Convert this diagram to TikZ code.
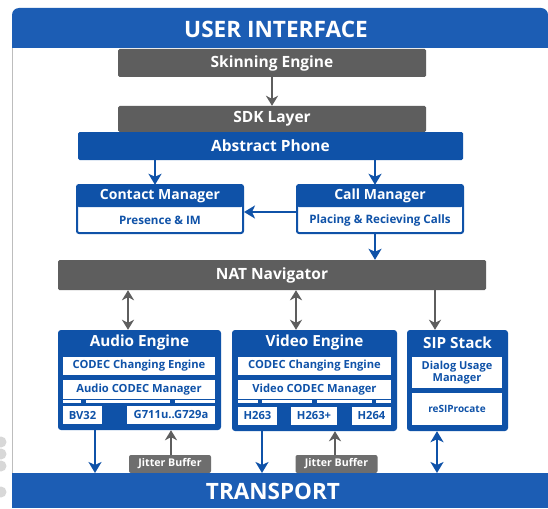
\documentclass[tikz,border=0pt]{standalone}
\usepackage{fontspec}
\setmainfont{Open Sans}
\usetikzlibrary{arrows.meta,calc}
\definecolor{uiblue}{HTML}{1C5DB4}
\definecolor{boxblue}{HTML}{0F52A8}
\definecolor{ggray}{HTML}{5E5E5E}
\definecolor{framegray}{HTML}{BDBDBD}
\definecolor{dotgray}{HTML}{D8D8D8}
\begin{document}
\begin{tikzpicture}[x=1pt,y=-1pt,
  gbox/.style={fill=ggray, text=white, font=\bfseries\fontsize{15.5}{17}\selectfont, rounded corners=1.5pt, inner sep=0pt},
  bbox/.style={fill=boxblue, text=white, font=\bfseries\fontsize{15.5}{17}\selectfont, rounded corners=1.5pt, inner sep=0pt},
  panel/.style={fill=white, draw=boxblue, line width=2pt, rounded corners=2pt, inner sep=0pt},
  hdr/.style={fill=boxblue, text=white, font=\bfseries\fontsize{14}{16}\selectfont, inner sep=0pt},
  sub/.style={text=boxblue, font=\bfseries\fontsize{11.6}{13}\selectfont, inner sep=0pt},
  engine/.style={fill=boxblue, rounded corners=3pt, inner sep=0pt},
  etitle/.style={text=white, font=\bfseries\fontsize{15.3}{17}\selectfont, inner sep=0pt},
  wbox/.style={fill=white, text=boxblue, font=\bfseries\fontsize{11.2}{12}\selectfont, inner sep=0pt, minimum height=18pt},
  jbox/.style={fill=ggray!90, text=white, font=\bfseries\fontsize{10.6}{11}\selectfont, rounded corners=2pt, inner sep=0pt, minimum width=82pt, minimum height=18pt},
  barrow/.style={draw=boxblue, line width=2.5pt, -{Stealth[length=11pt,width=13pt,inset=3pt]}},
  bdarrow/.style={draw=boxblue, line width=2.5pt, {Stealth[length=11pt,width=13pt,inset=3pt]}-{Stealth[length=11pt,width=13pt,inset=3pt]}},
  garrow/.style={draw=ggray, line width=2.3pt, -{Stealth[length=10pt,width=12pt,inset=3pt]}},
  gdarrow/.style={draw=ggray, line width=2.3pt, {Stealth[length=10pt,width=12pt,inset=3pt]}-{Stealth[length=10pt,width=12pt,inset=3pt]}},
  seg/.style={fill=white}
]
\useasboundingbox (0,0) rectangle (548,508);
\fill[white] (0,0) rectangle (548,508);
% side dots
\foreach \yy in {442,454,466,492} \fill[dotgray] (1,\yy) circle (5.5pt);
% frame
\draw[framegray, line width=1.2pt] (12.5,20) -- (12.5,508);
% header
\fill[uiblue] (12,48) [rounded corners=7pt] -- (12,8) -- (548,8) [sharp corners] -- (548,48) -- cycle;
\node[text=white, font=\bfseries\fontsize{22.6}{25}\selectfont, inner sep=0pt] (ui) at (276,29) {USER INTERFACE};
% transport
\fill[uiblue] (12,473) rectangle (548,508);
\node[text=white, font=\bfseries\fontsize{22.5}{25}\selectfont, inner sep=0pt] (tr) at (273,491) {TRANSPORT};
\coordinate (trtop) at (0,473);

% top stack
\node[gbox, minimum width=308pt, minimum height=28pt] (skin) at (272,63) {Skinning Engine};
\node[gbox, minimum width=308pt, minimum height=26pt] (sdk) at (272,119) {SDK Layer};
\node[bbox, minimum width=385pt, minimum height=28pt] (abs) at (270.5,146) {Abstract Phone};

% managers
\node[panel, minimum width=166pt, minimum height=48pt] (cm) at (160,209) {};
\node[hdr, minimum width=166pt, minimum height=22pt, rounded corners=2pt] (cmh) at (160,196) {Contact Manager};
\node[sub] (cmb) at (160,220) {Presence \& IM};
\node[panel, minimum width=166pt, minimum height=48pt] (call) at (380,209) {};
\node[hdr, minimum width=166pt, minimum height=22pt, rounded corners=2pt] (callh) at (380,196) {Call Manager};
\node[sub] (callb) at (380,220) {Placing \& Recieving Calls};

% NAT
\node[gbox, minimum width=428pt, minimum height=30pt] (nat) at (272,275) {NAT Navigator};

% Audio engine
\node[engine, minimum width=163pt, minimum height=100pt] (ae) at (139.5,380) {};
\node[etitle] (aet) at (139.5,343) {Audio Engine};
\node[wbox, minimum width=152pt] (ace) at (139,366) {CODEC Changing Engine};
\node[wbox, minimum width=152pt, minimum height=19pt] (acm) at (139,389.5) {Audio CODEC Manager};
\fill[seg] (63,400) rectangle (81,403);
\fill[seg] (86,400) rectangle (170,403);
\fill[seg] (175,400) rectangle (215,403);
\node[wbox, minimum width=39pt] (bv) at (82.5,415) {BV32};
\node[wbox, minimum width=88pt] (g7) at (171,415) {G711u..G729a};

% Video engine
\node[engine, minimum width=165pt, minimum height=101pt] (ve) at (314.5,380.5) {};
\node[etitle] (vet) at (314.5,343) {Video Engine};
\node[wbox, minimum width=153pt] (vce) at (314.5,366) {CODEC Changing Engine};
\node[wbox, minimum width=153pt, minimum height=19pt] (vcm) at (314.5,389.5) {Video CODEC Manager};
\fill[seg] (238,400) rectangle (258,403);
\fill[seg] (262,400) rectangle (312,403);
\fill[seg] (317,400) rectangle (372,403);
\fill[seg] (376,400) rectangle (391,403);
\node[wbox, minimum width=39pt] (h1) at (257.5,415.5) {H263};
\node[wbox, minimum width=46pt] (h2) at (314,415.5) {H263+};
\node[wbox, minimum width=39pt] (h3) at (371.5,415.5) {H264};

% SIP stack
\node[engine, minimum width=101pt, minimum height=101pt] (sip) at (457.5,380.5) {};
\node[etitle] (sipt) at (457.5,343) {SIP Stack};
\node[wbox, minimum width=90pt, minimum height=31pt, align=center, font=\bfseries\fontsize{11}{12.5}\selectfont] (dum) at (457,372.5) {Dialog Usage\\Manager};
\node[wbox, minimum width=90pt, minimum height=32pt, font=\bfseries\fontsize{10}{12}\selectfont] (res) at (457,409) {reSIProcate};

% jitter buffers
\node[jbox] (jb1) at (170,464) {Jitter Buffer};
\node[jbox] (jb2) at (336.5,464) {Jitter Buffer};
\fill[uiblue] (120,473) rectangle (390,474);

% x positions
\coordinate (xs) at (272,0);
\coordinate (xa) at (155,0);
\coordinate (xb) at (375,0);
\coordinate (ya) at (0,212);
\coordinate (xg1) at (128,0);
\coordinate (xg2) at (296,0);
\coordinate (xg3) at (435,0);
\coordinate (xd1) at (95,0);
\coordinate (xd2) at (262,0);
\coordinate (xd3) at (437,0);
\coordinate (xj1) at (171,0);
\coordinate (xj2) at (335,0);

% connectors
\draw[garrow] (skin.south -| xs) -- (sdk.north -| xs);
\draw[barrow] (abs.south -| xa) -- (cmh.north -| xa);
\draw[barrow] (abs.south -| xb) -- (callh.north -| xb);
\draw[barrow] (call.west |- ya) -- (cm.east |- ya);
\draw[barrow] (call.south -| xb) -- (nat.north -| xb);
\draw[gdarrow] (nat.south -| xg1) -- (ae.north -| xg1);
\draw[gdarrow] (nat.south -| xg2) -- (ve.north -| xg2);
\draw[garrow] (nat.south -| xg3) -- (sip.north -| xg3);
\draw[barrow] (ae.south -| xd1) -- (trtop -| xd1);
\draw[barrow] (ve.south -| xd2) -- (trtop -| xd2);
\draw[bdarrow] (sip.south -| xd3) -- (trtop -| xd3);
\draw[garrow] (jb1.north -| xj1) -- (ae.south -| xj1);
\draw[garrow] (jb2.north -| xj2) -- (ve.south -| xj2);
\end{tikzpicture}
\end{document}
